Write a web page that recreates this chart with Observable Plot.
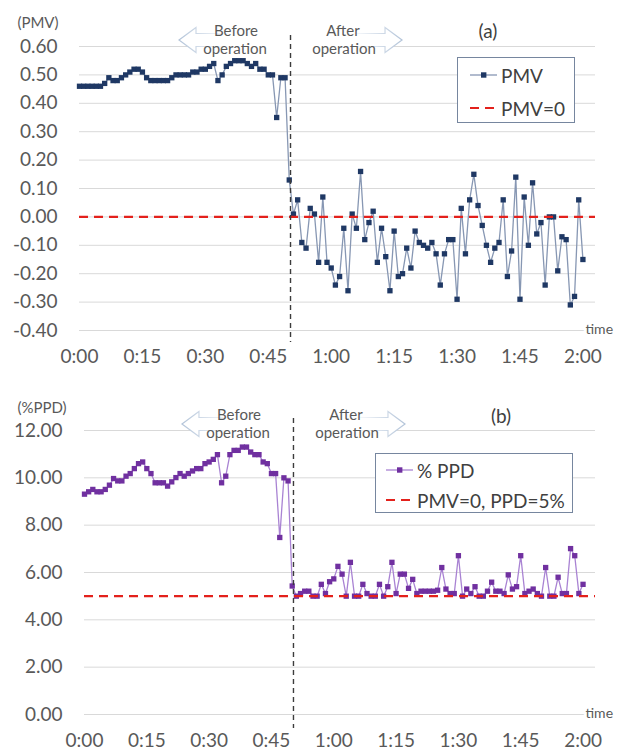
<!DOCTYPE html>
<html>
<head>
<meta charset="utf-8">
<script src="https://cdn.jsdelivr.net/npm/d3@7"></script>
<script src="https://cdn.jsdelivr.net/npm/@observablehq/plot@0.6"></script>
<style>
  body { margin: 0; background: #fff; }
  #wrap { position: relative; width: 624px; height: 751px; overflow: hidden; font-family: Lato, "Open Sans", sans-serif; background: #fff; }
  #wrap svg.plot { position: absolute; left: 0; }
  .abs { position: absolute; white-space: nowrap; }
  .legend { position: absolute; box-sizing: border-box; border: 1px solid #76869f; background: #fff; }
  .legend .row { position: absolute; left: 0; right: 0; height: 24px; font-size: 19px; color: #404040; white-space: nowrap; }
  .legend .row span { white-space: nowrap; }
</style>
</head>
<body>
<div id="wrap"></div>
<script>
// ---------- data (one reading per minute) ----------
const minutes = [
  0,1,2,3,4,5,6,7,8,9,10,11,12,13,14,15,16,17,18,19,
  20,21,22,23,24,25,26,27,28,29,30,31,32,33,34,35,36,37,38,39,
  40,41,42,43,44,45,46,47,48,49,50,51,52,53,54,55,56,57,58,59,
  60,61,62,63,64,65,66,67,68,69,70,71,72,73,74,75,76,77,78,79,
  80,81,82,83,84,85,86,87,88,89,90,91,92,93,94,95,96,97,98,99,
  100,101,102,103,104,105,106,107,108,109,110,111,112,113,114,115,116,117,118,119,
  120
];
const pmv = [
  0.46,0.46,0.46,0.46,0.46,0.46,0.47,0.49,0.48,0.48,
  0.49,0.50,0.51,0.52,0.52,0.51,0.49,0.48,0.48,0.48,
  0.48,0.48,0.49,0.50,0.50,0.50,0.50,0.51,0.51,0.52,
  0.52,0.53,0.54,0.48,0.50,0.53,0.54,0.55,0.55,0.55,
  0.54,0.53,0.54,0.52,0.52,0.50,0.50,0.35,0.49,0.49,
  0.13,0.01,0.06,-0.09,-0.11,0.03,0.01,-0.16,0.07,-0.16,
  -0.18,-0.24,-0.21,-0.04,-0.26,0.01,-0.04,0.16,-0.08,-0.02,
  0.02,-0.16,-0.04,-0.14,-0.26,-0.05,-0.21,-0.20,-0.11,-0.18,
  -0.05,-0.09,-0.10,-0.11,-0.09,-0.13,-0.24,-0.13,-0.08,-0.08,
  -0.29,0.03,-0.13,0.06,0.15,0.04,-0.03,-0.10,-0.16,-0.11,
  -0.09,0.06,-0.21,-0.12,0.14,-0.29,0.07,-0.10,0.12,-0.06,
  -0.02,-0.24,0.00,0.00,-0.19,-0.07,-0.08,-0.31,-0.28,0.06,
  -0.15
];
const ppd = [
  9.31,9.41,9.51,9.41,9.41,9.51,9.69,9.97,9.87,9.87,
  10.07,10.18,10.39,10.60,10.67,10.39,10.18,9.79,9.79,9.79,
  9.65,9.83,10.01,10.18,10.07,10.18,10.29,10.39,10.39,10.60,
  10.67,10.78,10.98,9.79,10.07,10.98,11.16,11.16,11.30,11.30,
  11.09,10.98,10.98,10.67,10.60,10.18,10.18,7.48,10.00,9.87,
  5.43,5.00,5.11,5.21,5.21,5.00,5.00,5.50,5.11,5.61,
  5.73,6.26,5.93,5.00,6.43,5.00,5.00,5.50,5.11,5.00,
  5.00,5.50,5.00,5.40,6.43,5.11,5.93,5.93,5.33,5.71,
  5.11,5.21,5.21,5.21,5.21,5.25,6.21,5.30,5.11,5.11,
  6.71,5.00,5.30,5.11,5.40,5.00,5.00,5.21,5.59,5.21,
  5.21,5.11,5.90,5.30,5.40,6.71,5.11,5.21,5.30,5.11,
  5.00,6.21,5.00,5.00,5.80,5.11,5.11,7.01,6.71,5.11,
  5.50
];
const operationTime = 50.3;          // minutes, when the operation started
const pmvReference = 0;              // PMV = 0
const ppdReference = 5;              // PPD = 5 %
const xTicks = [0, 15, 30, 45, 60, 75, 90, 105, 120];
const xTickLabels = ["0:00","0:15","0:30","0:45","1:00","1:15","1:30","1:45","2:00"];
const pmvTicks = [-0.4, -0.3, -0.2, -0.1, 0, 0.1, 0.2, 0.3, 0.4, 0.5, 0.6];
const ppdTicks = [0, 2, 4, 6, 8, 10, 12];
const legendA = ["PMV", "PMV=0"];
const legendB = ["% PPD", "PMV=0, PPD=5%"];
const beforeLabel = ["Before", "operation"];
const afterLabel = ["After", "operation"];

// ---------- helpers ----------
const wrap = document.getElementById("wrap");

function annotationMark(id) {
  return (index, scales, values, dims) => {
    const mt = dims.marginTop;
    const xo = scales.x(operationTime);
    const cy = mt - 6;
    const g = d3.create("svg:g");
    const defs = g.append("defs");
    const gl = defs.append("linearGradient").attr("id", id + "gl").attr("gradientUnits", "userSpaceOnUse")
      .attr("x1", xo - 111).attr("x2", xo - 60).attr("y1", 0).attr("y2", 0);
    gl.append("stop").attr("offset", 0).attr("stop-color", "#b3c4d9");
    gl.append("stop").attr("offset", 1).attr("stop-color", "#ffffff");
    const gr = defs.append("linearGradient").attr("id", id + "gr").attr("gradientUnits", "userSpaceOnUse")
      .attr("x1", xo + 112).attr("x2", xo + 60).attr("y1", 0).attr("y2", 0);
    gr.append("stop").attr("offset", 0).attr("stop-color", "#b3c4d9");
    gr.append("stop").attr("offset", 1).attr("stop-color", "#ffffff");
    g.append("rect").attr("x", xo - 100).attr("y", mt - 3).attr("width", 200).attr("height", 6).attr("fill", "#fff");
    const left = [[xo-111,cy],[xo-94,cy-12.5],[xo-94,cy-6.5],[xo-6,cy-6.5],[xo-6,cy+6.5],[xo-94,cy+6.5],[xo-94,cy+12.5]];
    const right = [[xo+112,cy],[xo+95,cy-12.5],[xo+95,cy-6.5],[xo+6,cy-6.5],[xo+6,cy+6.5],[xo+95,cy+6.5],[xo+95,cy+12.5]];
    g.append("polygon").attr("points", left.map(p => p.join(",")).join(" "))
      .attr("fill", "#fff").attr("stroke", `url(#${id}gl)`).attr("stroke-width", 1.2);
    g.append("polygon").attr("points", right.map(p => p.join(",")).join(" "))
      .attr("fill", "#fff").attr("stroke", `url(#${id}gr)`).attr("stroke-width", 1.2);
    const t = g.append("g").attr("font-size", 15).attr("fill", "#595959").attr("text-anchor", "middle")
      .attr("font-family", "Lato, sans-serif");
    t.append("text").attr("x", xo - 54).attr("y", mt - 15).attr("dy", "0.35em").text(beforeLabel[0]);
    t.append("text").attr("x", xo - 55).attr("y", mt + 3).attr("dy", "0.35em").text(beforeLabel[1]);
    t.append("text").attr("x", xo + 53).attr("y", mt - 15).attr("dy", "0.35em").text(afterLabel[0]);
    t.append("text").attr("x", xo + 54).attr("y", mt + 3).attr("dy", "0.35em").text(afterLabel[1]);
    return g.node();
  };
}

function panel(cfg) {
  const data = minutes.map((m, i) => ({minute: m, value: cfg.values[i]}));
  const chart = Plot.plot({
    width: 624,
    height: cfg.height,
    marginTop: cfg.marginTop,
    marginBottom: cfg.marginBottom,
    marginLeft: cfg.marginLeft,
    marginRight: 29,
    style: {fontFamily: "Lato, sans-serif", fontSize: "19px", color: "#595959", background: "transparent", overflow: "visible"},
    x: {domain: [0, 123], label: null},
    y: {domain: cfg.yDomain, label: null},
    marks: [
      Plot.gridY(cfg.yTicks, {stroke: "#d9d9d9", strokeOpacity: 1, strokeWidth: 1}),
      Plot.axisY(cfg.yTicks, {tickSize: 0, tickPadding: 22, tickFormat: d => d.toFixed(2), fill: "#595959", label: null}),
      Plot.axisX(xTicks, {tickSize: 0, tickPadding: 19, tickFormat: d => xTickLabels[xTicks.indexOf(d)], fill: "#595959", label: null}),
      Plot.text(["time"], {frameAnchor: "bottom-right", text: d => d, textAnchor: "start", dx: -10, dy: 3,
        fontSize: 14, fill: "#595959", stroke: "white", strokeWidth: 6}),
      annotationMark(cfg.id),
      Plot.line(data, {x: "minute", y: "value", stroke: cfg.lineColor, strokeWidth: 1.3}),
      Plot.dot(data, {x: "minute", y: "value", symbol: "square", r: 3, fill: cfg.markColor, stroke: "none"}),
      Plot.ruleY([cfg.reference], {stroke: "#e3211c", strokeWidth: 2.2, strokeDasharray: "9,6"}),
      Plot.ruleX([operationTime], {stroke: "#3c3c3c", strokeWidth: 1.4, strokeDasharray: "5,4",
        insetTop: cfg.insetTop, insetBottom: cfg.insetBottom})
    ]
  });
  chart.classList.add("plot");
  chart.style.top = cfg.top + "px";
  wrap.appendChild(chart);
}

function addText(txt, x, y, size, color) {
  const d = document.createElement("div");
  d.className = "abs";
  d.textContent = txt;
  d.style.fontSize = size + "px";
  d.style.color = color;
  d.style.left = x + "px";
  d.style.top = y + "px";
  d.style.transform = "translate(-50%, -50%)";
  wrap.appendChild(d);
}

function addLegend(labels, box, swatchLeft, textLeft, rows, lineColor, markColor) {
  const L = document.createElement("div");
  L.className = "legend";
  Object.assign(L.style, {left: box[0] + "px", top: box[1] + "px", width: box[2] + "px", height: box[3] + "px"});
  labels.forEach((lab, i) => {
    const row = document.createElement("div");
    row.className = "row";
    row.style.top = (rows[i] - 12) + "px";
    const sw = i === 0
      ? `<svg width="27" height="24" style="position:absolute;left:${swatchLeft}px;top:0"><line x1="0" x2="27" y1="12" y2="12" stroke="${lineColor}" stroke-width="1.3"/><rect x="11" y="9.3" width="5.4" height="5.4" fill="${markColor}"/></svg>`
      : `<svg width="27" height="24" style="position:absolute;left:${swatchLeft}px;top:0"><line x1="0" x2="27" y1="12" y2="12" stroke="#e3211c" stroke-width="2.2" stroke-dasharray="9,6"/></svg>`;
    row.innerHTML = sw + `<span style="position:absolute;left:${textLeft}px;top:50%;transform:translateY(-50%)">${lab}</span>`;
    L.appendChild(row);
  });
  wrap.appendChild(L);
}

// ---------- panel (a) ----------
panel({id: "pa", values: pmv, yDomain: [-0.4, 0.6], yTicks: pmvTicks, reference: pmvReference,
  top: 0, height: 376, marginTop: 46, marginBottom: 46, marginLeft: 79,
  lineColor: "#8797b3", markColor: "#1f3864", insetTop: -11, insetBottom: -12});
// ---------- panel (b) ----------
panel({id: "pb", values: ppd, yDomain: [0, 12], yTicks: ppdTicks, reference: ppdReference,
  top: 376, height: 375, marginTop: 54, marginBottom: 37, marginLeft: 84,
  lineColor: "#a983d3", markColor: "#7030a0", insetTop: -12, insetBottom: -14});

addText("(PMV)", 38, 22, 15, "#595959");
addText("(%PPD)", 42, 407, 15, "#595959");
addText("(a)", 488, 30, 19, "#404040");
addText("(b)", 501, 415, 19, "#404040");

addLegend(legendA, [457, 57, 118, 66], 12, 43, [17, 50], "#8797b3", "#1f3864");
addLegend(legendB, [375, 453, 198, 60], 10, 41, [16, 46], "#a983d3", "#7030a0");
</script>
</body>
</html>
